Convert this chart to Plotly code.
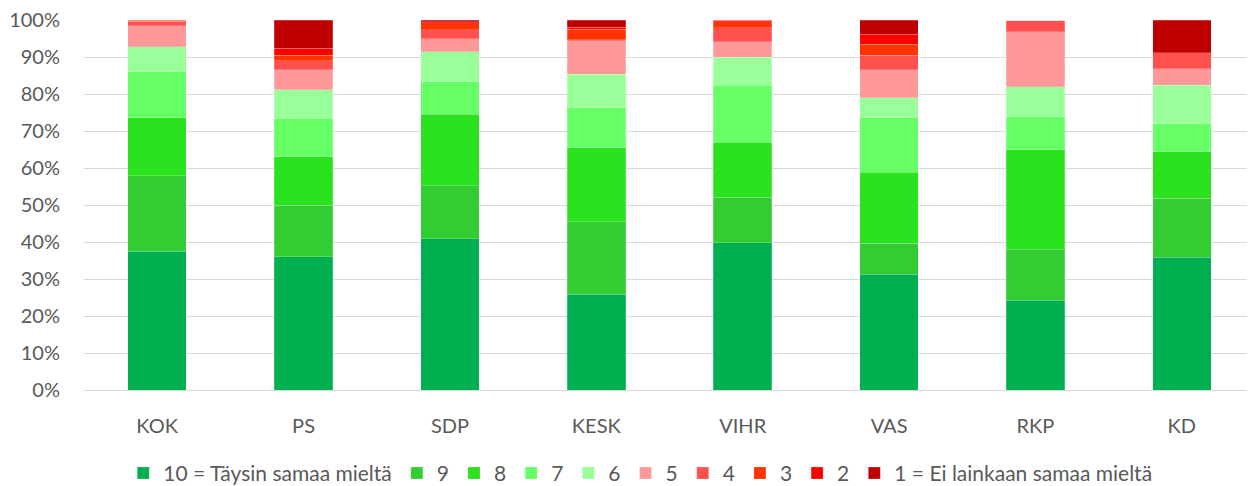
import plotly.graph_objects as go

parties = ["KOK", "PS", "SDP", "KESK", "VIHR", "VAS", "RKP", "KD"]

s10 = [37.5, 36.0, 40.9, 25.9, 39.8, 31.3, 24.2, 35.9]
s9 = [20.4, 14.0, 14.3, 19.6, 12.3, 8.4, 13.7, 15.9]
s8 = [15.7, 13.1, 19.3, 20.0, 14.9, 19.1, 27.0, 12.6]
s7 = [12.4, 10.3, 8.8, 10.8, 15.3, 14.8, 8.9, 7.6]
s6 = [6.8, 7.7, 8.1, 9.1, 7.6, 5.4, 8.1, 10.4]
s5 = [5.6, 5.4, 3.5, 9.0, 4.2, 7.5, 14.9, 4.4]
s4 = [1.1, 2.5, 2.4, 0.2, 3.8, 4.0, 3.2, 4.3]
s3 = [0.1, 1.5, 2.0, 2.9, 1.6, 3.0, 0.0, 0.0]
s2 = [0.4, 1.8, 0.2, 0.5, 0.5, 2.6, 0.0, 0.0]
s1 = [0.0, 7.7, 0.5, 2.0, 0.0, 3.9, 0.0, 8.9]

series_names = ["10 = Täysin samaa mieltä", "9", "8", "7", "6", "5", "4", "3", "2",
                "1 = Ei lainkaan samaa mieltä"]
series_values = [s10, s9, s8, s7, s6, s5, s4, s3, s2, s1]
colors = ["#00B050", "#33CC33", "#2AE21E", "#66FF66", "#99FF99",
          "#FF9999", "#FF5050", "#FF3300", "#FF0000", "#C00000"]

fig = go.Figure()
for name, vals, col in zip(series_names, series_values, colors):
    fig.add_trace(go.Bar(
        x=parties, y=vals, name=name,
        marker=dict(color=col, line=dict(color="rgba(255,255,255,0.35)", width=0.6)),
    ))

font_family = "Lato, Open Sans, sans-serif"
fig.update_layout(
    barmode="stack",
    bargap=0.6,
    width=1247, height=478,
    margin=dict(l=76, r=0, t=12, b=96, autoexpand=False),
    plot_bgcolor="white", paper_bgcolor="white",
    font=dict(family=font_family, color="#595959", size=20),
    legend=dict(orientation="h", x=0.475, xanchor="center", y=-0.17, yanchor="top",
                font=dict(size=21, color="#595959"), traceorder="normal",
                itemwidth=30, tracegroupgap=0),
    showlegend=True,
)
fig.update_yaxes(range=[0, 100], dtick=10, ticksuffix="%", showgrid=True,
                 gridcolor="#D9D9D9", gridwidth=1, zeroline=False,
                 ticks="outside", ticklen=19, tickcolor="rgba(0,0,0,0)",
                 ticklabeloverflow="allow",
                 tickfont=dict(size=20, color="#595959"), fixedrange=True)
fig.update_xaxes(showline=True, linecolor="#D9D9D9", linewidth=1,
                 ticks="outside", ticklen=18, tickcolor="rgba(0,0,0,0)",
                 tickfont=dict(size=20, color="#595959"))

fig.write_html("out.html")
